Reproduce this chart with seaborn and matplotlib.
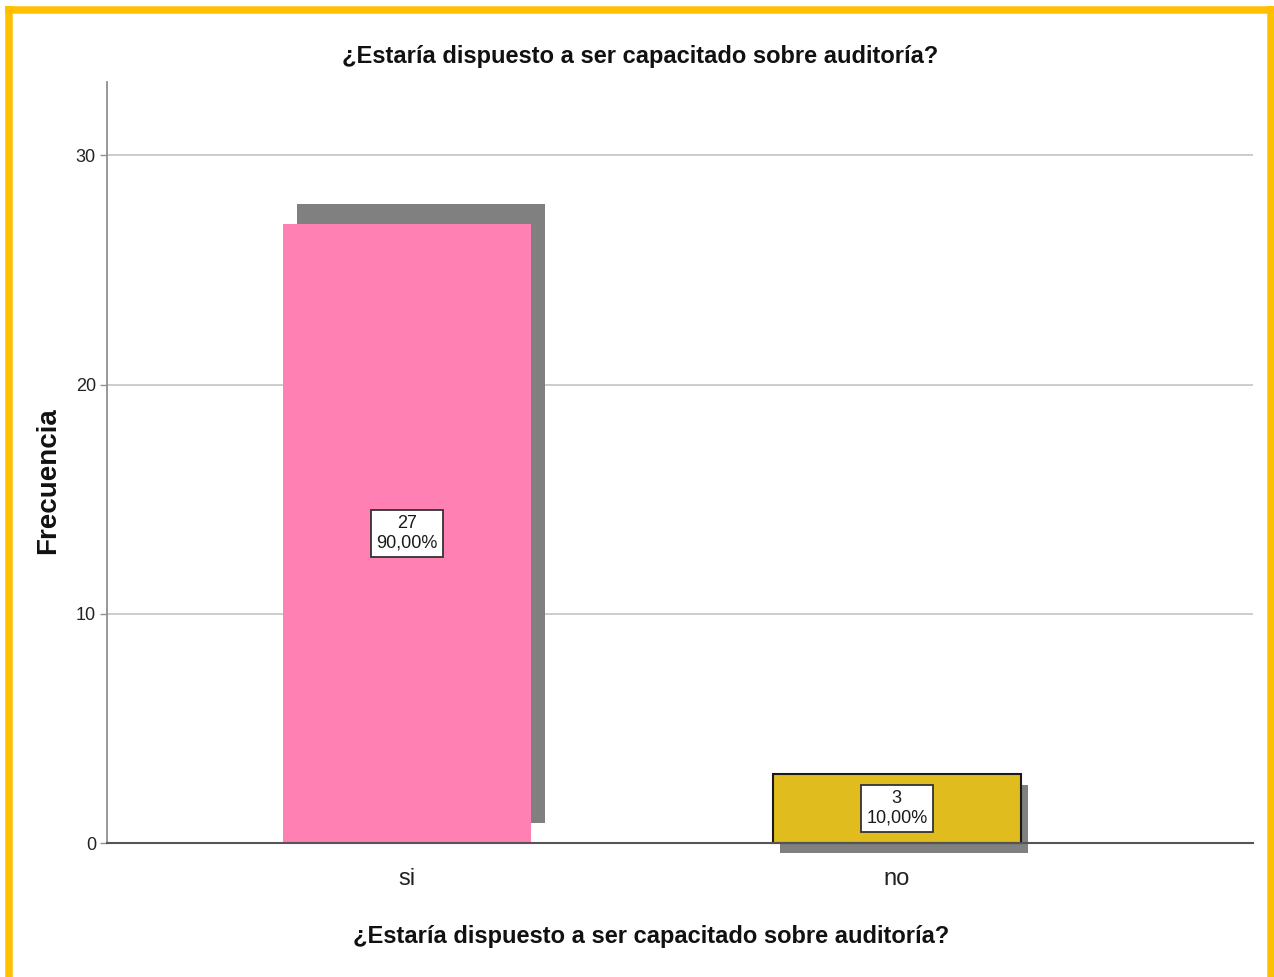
import matplotlib
matplotlib.use("Agg")
import matplotlib.pyplot as plt
import matplotlib.patheffects as pe
from matplotlib.lines import Line2D
import seaborn as sns
import pandas as pd

categories = ["si", "no"]
counts = [27, 3]
percents = ["90,00%", "10,00%"]
bar_colors = ["#FF80B2", "#E0BC1E"]
title = "¿Estaría dispuesto a ser capacitado sobre auditoría?"
y_label = "Frecuencia"

sns.set_theme(style="white")
plt.rcParams["font.family"] = ["Liberation Sans", "DejaVu Sans"]

df = pd.DataFrame({"cat": categories, "n": counts})

fig = plt.figure(figsize=(12.74, 9.77), dpi=100)
ax = fig.add_axes([107/1274, 1-843/977, (1253-107)/1274, (843-82)/977])

sns.barplot(data=df, x="cat", y="n", hue="cat", palette=bar_colors, width=0.506,
            legend=False, ax=ax, saturation=1)

shadow_offsets = [(10.5, 14.5), (5.5, -7.5)]
edgecols = ["none", "#1a1a1a"]
for patch, off, ec in zip(ax.patches, shadow_offsets, edgecols):
    patch.set_edgecolor(ec)
    patch.set_linewidth(1.5 if ec != "none" else 0)
    patch.set_path_effects([pe.SimplePatchShadow(offset=off, shadow_rgbFace="#808080", alpha=1.0),
                            pe.Normal()])
    patch.set_zorder(3)
    patch.set_clip_on(False)

for i, (c, p) in enumerate(zip(counts, percents)):
    ax.text(i, c / 2, f"{c}\n{p}", ha="center", va="center", fontsize=13,
            linespacing=1.2, color="#1a1a1a", zorder=5,
            bbox=dict(boxstyle="square,pad=0.3", fc="white", ec="#333333", lw=1.3))

ax.set_xlim(-0.612, 1.727)
ax.set_ylim(0, 33.2)
ax.set_yticks([0, 10, 20, 30])
ax.yaxis.grid(True, color="#c8c8c8", lw=1.3)
ax.set_axisbelow(True)
for s in ["top", "right"]:
    ax.spines[s].set_visible(False)
ax.spines["left"].set_color("#909090")
ax.spines["left"].set_linewidth(1.3)
ax.spines["bottom"].set_color("#555555")
ax.spines["bottom"].set_linewidth(1.5)
ax.spines["bottom"].set_zorder(4)
ax.tick_params(axis="y", left=True, length=5, width=1, color="#909090", labelsize=13, labelcolor="#222222", pad=3)
ax.tick_params(axis="x", bottom=False, labelsize=17, labelcolor="#222222", pad=12)

ax.set_ylabel("")
ax.set_xlabel("")
fig.text(48/1274, 1-481/977, y_label, rotation=90, ha="center", va="center", fontsize=20,
         fontweight="bold", color="#111111")
fig.text(651/1274, 1-937/977, title, ha="center", va="center", fontsize=17, fontweight="bold", color="#111111")
fig.text(640/1274, 1-57/977, title, ha="center", va="center", fontsize=17, fontweight="bold", color="#111111")

yellow = "#FFC000"
lw = 7.5 * 72 / 100
kw = dict(color=yellow, lw=lw, transform=fig.transFigure, solid_capstyle="butt")
fig.add_artist(Line2D([8.5/1274, 8.5/1274], [1-6/977, -0.02], **kw))
fig.add_artist(Line2D([5/1274, 1.0], [1-9.5/977, 1-9.5/977], **kw))
fig.add_artist(Line2D([1270.5/1274, 1270.5/1274], [1-6/977, -0.02], **kw))

fig.savefig("out.png", dpi=100, facecolor="white")
